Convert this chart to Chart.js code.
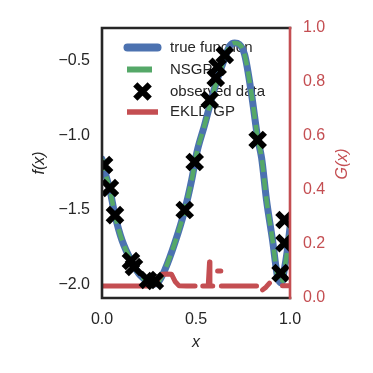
<!DOCTYPE html>
<html><head><meta charset="utf-8">
<script src="https://cdn.jsdelivr.net/npm/chart.js@4/dist/chart.umd.min.js"></script>
<style>html,body{margin:0;padding:0;background:#fff}#wrap{width:373px;height:373px}</style>
</head><body><div id="wrap"><canvas id="c" width="373" height="373"></canvas></div>
<script>
// ---- data ----
const trueX = [0.0, 0.016, 0.042, 0.069, 0.106, 0.159, 0.202, 0.255, 0.281, 0.305, 0.334, 0.387, 0.44, 0.477, 0.504, 0.546, 0.599, 0.653, 0.68, 0.706, 0.73, 0.759, 0.796, 0.828, 0.849, 0.875, 0.907, 0.934, 0.955, 0.97, 0.985, 1.0];
const trueF = [-1.16, -1.247, -1.368, -1.536, -1.703, -1.851, -1.938, -1.991, -1.998, -1.975, -1.905, -1.724, -1.502, -1.30, -1.119, -0.931, -0.683, -0.482, -0.40, -0.381, -0.39, -0.462, -0.73, -1.019, -1.153, -1.435, -1.703, -1.951, -1.991, -1.90, -1.78, -1.62];
const nsgpX = [0.0, 0.016, 0.042, 0.069, 0.106, 0.159, 0.202, 0.255, 0.281, 0.305, 0.334, 0.387, 0.44, 0.477, 0.504, 0.546, 0.599, 0.653, 0.68, 0.706, 0.73, 0.759, 0.796, 0.828, 0.849, 0.875, 0.907, 0.934, 0.955, 0.97, 0.985, 1.0];
const nsgpF = [-1.16, -1.247, -1.368, -1.536, -1.703, -1.851, -1.938, -1.991, -1.998, -1.975, -1.905, -1.724, -1.502, -1.30, -1.119, -0.931, -0.683, -0.482, -0.40, -0.381, -0.39, -0.462, -0.73, -1.019, -1.153, -1.435, -1.703, -1.951, -1.991, -1.90, -1.78, -1.62];
const obsX = [0.011, 0.042, 0.069, 0.154, 0.17, 0.244, 0.281, 0.44, 0.493, 0.573, 0.605, 0.615, 0.653, 0.828, 0.95, 0.971, 0.971];
const obsF = [-1.20, -1.354, -1.536, -1.844, -1.884, -1.971, -1.978, -1.502, -1.18, -0.764, -0.616, -0.542, -0.462, -1.032, -1.925, -1.724, -1.569];
const gX = [0.0, 0.05, 0.10, 0.15, 0.20, 0.24, 0.28, 0.30, 0.32, 0.345, 0.37, 0.39, 0.41, 0.45, 0.495, 0.50, 0.536, 0.565, 0.572, 0.574, 0.58, 0.589, 0.595, 0.615, 0.632, 0.634, 0.635, 0.70, 0.76, 0.822, 0.83, 0.854, 0.872, 0.891, 0.90, 0.96, 0.98, 1.0];
const gVal = [0.044, 0.044, 0.044, 0.044, 0.044, 0.044, 0.05, 0.072, 0.088, 0.089, 0.088, 0.06, 0.045, 0.044, 0.044, null, 0.044, 0.044, 0.133, 0.044, 0.044, 0.044, null, 0.1, 0.1, null, 0.044, 0.044, 0.044, 0.044, null, 0.03, 0.04, 0.055, null, 0.045, 0.045, 0.045];
const xTicks = [0.0, 0.5, 1.0];
const fTicks = [-2.0, -1.5, -1.0, -0.5];
const gTicks = [0.0, 0.2, 0.4, 0.6, 0.8, 1.0];
const legendLabels = ['true function', 'NSGP', 'observed data', 'EKLD GP'];
const xTitle = 'x', fTitle = 'f(x)', gTitle = 'G(x)';

// ---- styles ----
const BLUE = '#4c72b0', GREEN = '#55a868', RED = '#c44e52', INK = '#262626';
const FONT = "'Liberation Sans', Arial, sans-serif";
Chart.defaults.font.family = FONT;
Chart.defaults.color = INK;

const pts = (xs, ys) => xs.map((x, i) => ({x: x, y: ys[i]}));
const fmt = v => (v < 0 ? '\u2212' : '') + Math.abs(v).toFixed(1);

const legendPlugin = {
  id: 'inlegend',
  beforeDatasetsDraw(chart) {
    const ctx = chart.ctx;
    ctx.save();
    const rows = [47.5, 69.5, 91.5, 112];
    ctx.lineCap = 'round'; ctx.strokeStyle = BLUE; ctx.lineWidth = 8;
    ctx.beginPath(); ctx.moveTo(127.5, rows[0]); ctx.lineTo(157.5, rows[0]); ctx.stroke();
    ctx.lineCap = 'butt'; ctx.strokeStyle = GREEN; ctx.lineWidth = 6;
    ctx.beginPath(); ctx.moveTo(127, rows[1]); ctx.lineTo(152, rows[1]); ctx.stroke();
    ctx.strokeStyle = '#000'; ctx.lineWidth = 6; const a = 7.2, cx = 142.5, cy = rows[2];
    ctx.beginPath(); ctx.moveTo(cx - a, cy - a); ctx.lineTo(cx + a, cy + a);
    ctx.moveTo(cx - a, cy + a); ctx.lineTo(cx + a, cy - a); ctx.stroke();
    ctx.strokeStyle = RED; ctx.lineWidth = 5.5;
    ctx.beginPath(); ctx.moveTo(127, rows[3]); ctx.lineTo(158, rows[3]); ctx.stroke();
    ctx.fillStyle = INK; ctx.font = '15px ' + FONT; ctx.textBaseline = 'middle'; ctx.textAlign = 'left';
    legendLabels.forEach((t, i) => ctx.fillText(t, 170, rows[i]));
    ctx.restore();
  }
};

const spinePlugin = {
  id: 'spines',
  afterDatasetsDraw(chart) {
    const {ctx, chartArea: ca} = chart;
    ctx.save();
    ctx.lineWidth = 2.6; ctx.lineCap = 'square';
    ctx.strokeStyle = INK;
    ctx.beginPath();
    ctx.moveTo(ca.right, ca.top); ctx.lineTo(ca.left, ca.top); ctx.lineTo(ca.left, ca.bottom); ctx.lineTo(ca.right, ca.bottom);
    ctx.stroke();
    ctx.strokeStyle = RED; ctx.lineCap = 'butt';
    ctx.beginPath(); ctx.moveTo(ca.right, ca.top - 1.3); ctx.lineTo(ca.right, ca.bottom + 1.3); ctx.stroke();
    // right axis title, reading bottom-to-top like matplotlib
    ctx.translate(343, (ca.top + ca.bottom) / 2 + 1);
    ctx.rotate(-Math.PI / 2);
    ctx.fillStyle = RED; ctx.font = 'italic 16px ' + FONT; ctx.textAlign = 'center'; ctx.textBaseline = 'middle';
    ctx.fillText(gTitle, 0, 0);
    ctx.restore();
  }
};

new Chart(document.getElementById('c'), {
  type: 'line',
  data: {
    datasets: [
      { label: legendLabels[2], data: pts(obsX, obsF), yAxisID: 'y', showLine: false, order: 0, clip: 0,
        pointStyle: 'crossRot', pointRadius: 10.2, pointBorderWidth: 6, pointBorderColor: '#000', pointBackgroundColor: '#000', borderColor: '#000' },
      { label: legendLabels[3], data: pts(gX, gVal), yAxisID: 'y2', order: 1, clip: 0, spanGaps: false,
        borderColor: RED, borderWidth: 5, pointRadius: 0, borderCapStyle: 'round', borderJoinStyle: 'round', tension: 0 },
      { label: legendLabels[1], data: pts(nsgpX, nsgpF), yAxisID: 'y', order: 2, clip: 0,
        borderColor: GREEN, borderWidth: 4.5, borderDash: [12, 6], pointRadius: 0, cubicInterpolationMode: 'monotone' },
      { label: legendLabels[0], data: pts(trueX, trueF), yAxisID: 'y', order: 3, clip: 0,
        borderColor: BLUE, borderWidth: 7, pointRadius: 0, cubicInterpolationMode: 'monotone', borderJoinStyle: 'round', borderCapStyle: 'round' }
    ]
  },
  options: {
    responsive: false, animation: false, devicePixelRatio: 1,
    layout: { padding: { top: 28, left: 0, right: 0, bottom: 0 } },
    plugins: { legend: { display: false }, tooltip: { enabled: false } },
    scales: {
      x: { type: 'linear', position: 'bottom', min: 0, max: 1,
        grid: { display: false, drawTicks: false }, border: { display: false },
        afterBuildTicks: s => { s.ticks = xTicks.map(v => ({value: v})); },
        ticks: { padding: 12, color: INK, font: { size: 16 }, callback: v => fmt(v), maxRotation: 0 },
        title: { display: true, text: xTitle, color: INK, font: { size: 16, style: 'italic' }, padding: { top: 0, bottom: 21 } },
        afterFit: s => { s.height = 75; } },
      y: { type: 'linear', position: 'left', min: -2.092, max: -0.281,
        grid: { display: false, drawTicks: false }, border: { display: false },
        afterBuildTicks: s => { s.ticks = fTicks.map(v => ({value: v})); },
        ticks: { padding: 12, color: INK, font: { size: 16 }, callback: v => fmt(v) },
        title: { display: true, text: fTitle, color: INK, font: { size: 16, style: 'italic' }, padding: { top: 30, bottom: 0 } },
        afterFit: s => { s.width = 102; } },
      y2: { type: 'linear', position: 'right', min: 0, max: 1,
        grid: { display: false, drawTicks: false }, border: { display: false },
        afterBuildTicks: s => { s.ticks = gTicks.map(v => ({value: v})); },
        ticks: { padding: 13, color: RED, font: { size: 16 }, callback: v => fmt(v) },
        title: { display: false, text: gTitle },
        afterFit: s => { s.width = 83; } }
    }
  },
  plugins: [legendPlugin, spinePlugin]
});
</script>
</body></html>
